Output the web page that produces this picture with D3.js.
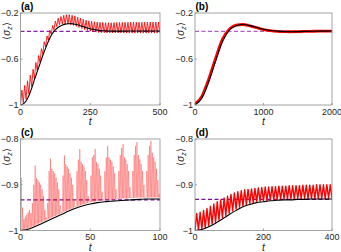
<!DOCTYPE html>
<html><head><meta charset="utf-8">
<script src="https://cdn.jsdelivr.net/npm/d3@7"></script>
<style>body{margin:0;background:#fff}svg{display:block}text{font-family:"Liberation Sans",Arial,sans-serif}</style>
</head><body><svg id="c" width="341" height="252"></svg>
<script>
// ---------- DATA ----------
// Panel (a): t in [0,500]
const aBlackStep = 10;
const aBlack = [-1,-0.99,-0.965,-0.92,-0.855,-0.78,-0.71,-0.64,-0.57,-0.505,-0.445,-0.395,-0.36,-0.335,-0.318,-0.305,-0.297,-0.293,-0.292,-0.295,-0.3,-0.307,-0.315,-0.323,-0.33,-0.337,-0.342,-0.347,-0.35,-0.353,-0.355,-0.356,-0.357,-0.358,-0.358,-0.358,-0.358,-0.358,-0.357,-0.357,-0.357,-0.357,-0.357,-0.357,-0.357,-0.357,-0.357,-0.357,-0.357,-0.357,-0.357];
const aRedPeriod = 10;
const aRedPeak = [-0.87,-0.83,-0.79,-0.74,-0.69,-0.63,-0.57,-0.51,-0.45,-0.4,-0.35,-0.31,-0.27,-0.245,-0.23,-0.22,-0.215,-0.215,-0.22,-0.225,-0.235,-0.245,-0.255,-0.262,-0.268,-0.272,-0.276,-0.279,-0.281,-0.283,-0.284,-0.285,-0.285,-0.284,-0.283,-0.282,-0.282,-0.281,-0.281,-0.281,-0.28,-0.28,-0.28,-0.281,-0.28,-0.28,-0.279,-0.28,-0.279,-0.279];
const aRedTrough = [-1,-0.98,-0.95,-0.905,-0.84,-0.77,-0.7,-0.63,-0.56,-0.495,-0.435,-0.385,-0.345,-0.318,-0.302,-0.296,-0.296,-0.297,-0.302,-0.308,-0.316,-0.325,-0.335,-0.345,-0.352,-0.358,-0.362,-0.366,-0.369,-0.371,-0.372,-0.373,-0.373,-0.374,-0.374,-0.374,-0.374,-0.375,-0.375,-0.375,-0.375,-0.375,-0.375,-0.375,-0.375,-0.375,-0.375,-0.375,-0.375,-0.375,-0.375];
const aSteady = -0.36;

// Panel (b): t in [0,2000]
const bStep = 100;
const bBlack = [-1,-0.94,-0.8,-0.62,-0.45,-0.35,-0.31,-0.3,-0.31,-0.325,-0.342,-0.352,-0.358,-0.362,-0.363,-0.362,-0.36,-0.359,-0.358,-0.358,-0.357];
const bRed = [-0.99,-0.925,-0.775,-0.595,-0.43,-0.34,-0.305,-0.3,-0.312,-0.328,-0.344,-0.353,-0.359,-0.362,-0.363,-0.362,-0.36,-0.359,-0.358,-0.358,-0.357];
const bSteady = -0.36;

// Panel (c): t in [0,100]
const cBlackStep = 5;
const cBlack = [-1,-0.998,-0.992,-0.985,-0.978,-0.971,-0.964,-0.957,-0.951,-0.946,-0.942,-0.939,-0.937,-0.936,-0.935,-0.934,-0.933,-0.932,-0.931,-0.931,-0.931];
const cRedPeriod = 1;
const cRedPeak = [-0.885,-0.95,-0.975,-0.97,-0.965,-0.96,-0.955,-0.962,-0.94,-0.9,
 -0.858,-0.885,-0.89,-0.895,-0.9,-0.91,-0.925,-0.955,-0.972,-0.94,
 -0.87,-0.843,-0.865,-0.87,-0.875,-0.885,-0.895,-0.91,-0.945,-0.96,
 -0.88,-0.836,-0.855,-0.86,-0.865,-0.875,-0.885,-0.9,-0.935,-0.948,
 -0.87,-0.845,-0.822,-0.85,-0.855,-0.86,-0.87,-0.89,-0.925,-0.937,
 -0.88,-0.84,-0.835,-0.822,-0.85,-0.855,-0.865,-0.88,-0.915,-0.933,
 -0.87,-0.84,-0.815,-0.84,-0.845,-0.85,-0.86,-0.875,-0.91,-0.93,
 -0.87,-0.835,-0.82,-0.811,-0.84,-0.845,-0.855,-0.87,-0.905,-0.928,
 -0.87,-0.835,-0.815,-0.807,-0.835,-0.845,-0.855,-0.87,-0.9,-0.927,
 -0.87,-0.835,-0.815,-0.804,-0.83,-0.84,-0.85,-0.865,-0.89,-0.92];
const cRedTrough = [-1,-0.999,-0.999,-0.998,-0.997,-0.996,-0.995,-0.994,-0.992,-0.991,
 -0.99,-0.988,-0.987,-0.985,-0.984,-0.982,-0.981,-0.979,-0.978,-0.976,
 -0.975,-0.974,-0.972,-0.971,-0.969,-0.968,-0.967,-0.965,-0.964,-0.962,
 -0.961,-0.96,-0.958,-0.957,-0.955,-0.954,-0.953,-0.952,-0.95,-0.949,
 -0.948,-0.947,-0.946,-0.945,-0.944,-0.943,-0.942,-0.941,-0.94,-0.939,
 -0.939,-0.938,-0.937,-0.937,-0.936,-0.936,-0.935,-0.935,-0.934,-0.934,
 -0.934,-0.933,-0.933,-0.933,-0.933,-0.932,-0.932,-0.932,-0.932,-0.932,
 -0.931,-0.931,-0.931,-0.93,-0.93,-0.93,-0.93,-0.93,-0.929,-0.929,
 -0.929,-0.929,-0.929,-0.928,-0.928,-0.928,-0.928,-0.928,-0.928,-0.928,
 -0.928,-0.928,-0.928,-0.928,-0.928,-0.928,-0.928,-0.928,-0.928,-0.928,-0.928];
const cSteady = -0.933;

// Panel (d): t in [0,400]
const dBlackStep = 20;
const dBlack = [-1,-0.998,-0.992,-0.984,-0.975,-0.965,-0.956,-0.948,-0.943,-0.939,-0.937,-0.935,-0.934,-0.933,-0.933,-0.932,-0.932,-0.931,-0.931,-0.931,-0.931];
const dRedPeriod = 10;
const dRedPeak = [-0.963,-0.96,-0.956,-0.952,-0.947,-0.942,-0.937,-0.933,-0.929,-0.925,-0.921,-0.918,-0.915,-0.913,-0.911,-0.91,-0.909,-0.908,-0.907,-0.906,-0.905,-0.905,-0.904,-0.904,-0.903,-0.903,-0.903,-0.902,-0.902,-0.902,-0.902,-0.901,-0.901,-0.901,-0.901,-0.9,-0.9,-0.9,-0.9,-0.9];
const dRedTrough = [-1,-0.999,-0.997,-0.994,-0.99,-0.986,-0.982,-0.977,-0.972,-0.967,-0.962,-0.957,-0.953,-0.949,-0.946,-0.943,-0.941,-0.939,-0.937,-0.936,-0.935,-0.934,-0.933,-0.933,-0.932,-0.932,-0.931,-0.931,-0.931,-0.931,-0.93,-0.93,-0.93,-0.93,-0.93,-0.93,-0.93,-0.93,-0.93,-0.93,-0.93];
const dSteady = -0.932;

const panelLabels = ["(a)","(b)","(c)","(d)"];
const xTicksA = [0,250,500], xTicksB = [0,1000,2000], xTicksC = [0,50,100], xTicksD = [0,200,400];
const yTicksTop = [-1,-0.6,-0.2], yTicksBot = [-1,-0.9,-0.8];

// ---------- DRAWING ----------
const svg = d3.select("#c");
const fmt = d3.format("");

function sampled(vals, step){ return vals.map((v,i)=>[i*step, v]); }
function spiky(peaks, troughs, period){
  const pts = [];
  troughs.forEach((v,i)=>{
    pts.push([i*period, v]);
    if(i < peaks.length) pts.push([(i+0.5)*period, peaks[i]]);
  });
  return pts;
}

const panels = [
  {lab:panelLabels[0], box:[20.5,160,13,105], xd:[0,500], yd:[-1,-0.2], xt:xTicksA, yt:yTicksTop, steady:aSteady,
   red:{pts:spiky(aRedPeak,aRedTrough,aRedPeriod), w:1, op:0.85, curve:d3.curveLinear},
   black:sampled(aBlack,aBlackStep), dashColor:"#8b1fa6"},
  {lab:panelLabels[1], box:[195,332,13,105], xd:[0,2000], yd:[-1,-0.2], xt:xTicksB, yt:yTicksTop, steady:bSteady,
   red:{pts:sampled(bRed,bStep), w:2.8, op:1, curve:d3.curveMonotoneX},
   black:sampled(bBlack,bStep), dashColor:"#b45cc8"},
  {lab:panelLabels[2], box:[20.5,160,139,230.5], xd:[0,100], yd:[-1,-0.8], xt:xTicksC, yt:yTicksBot, steady:cSteady,
   red:{pts:spiky(cRedPeak,cRedTrough,cRedPeriod), w:0.6, op:0.5, curve:d3.curveLinear},
   black:sampled(cBlack,cBlackStep), dashColor:"#7a0f9a"},
  {lab:panelLabels[3], box:[195,332,139,230.5], xd:[0,400], yd:[-1,-0.8], xt:xTicksD, yt:yTicksBot, steady:dSteady,
   red:{pts:spiky(dRedPeak,dRedTrough,dRedPeriod), w:1.4, op:1, curve:d3.curveLinear},
   black:sampled(dBlack,dBlackStep), dashColor:"#7a0f9a"}
];

panels.forEach((p,pi)=>{
  const [x0,x1,y0,y1] = p.box;
  const x = d3.scaleLinear().domain(p.xd).range([x0,x1]);
  const y = d3.scaleLinear().domain(p.yd).range([y1,y0]);
  const g = svg.append("g");
  const cid = "clip"+pi;
  g.append("clipPath").attr("id",cid).append("rect").attr("x",x0).attr("y",y0).attr("width",x1-x0).attr("height",y1-y0);
  const plot = g.append("g").attr("clip-path",`url(#${cid})`);

  // dashed steady state
  plot.append("line").attr("x1",x0).attr("x2",x1).attr("y1",y(p.steady)).attr("y2",y(p.steady))
    .attr("stroke",p.dashColor).attr("stroke-width",1.1).attr("stroke-dasharray","4,2.5");

  const line = d3.line().x(d=>x(d[0])).y(d=>y(d[1]));
  plot.append("path").datum(p.red.pts).attr("d",line.curve(p.red.curve))
    .attr("fill","none").attr("stroke","#ff0000").attr("stroke-width",p.red.w).attr("stroke-opacity",p.red.op)
    .attr("stroke-linejoin","round");
  plot.append("path").datum(p.black).attr("d",d3.line().x(d=>x(d[0])).y(d=>y(d[1])).curve(d3.curveMonotoneX))
    .attr("fill","none").attr("stroke","#000").attr("stroke-width",1.1);

  // box
  g.append("rect").attr("x",x0).attr("y",y0).attr("width",x1-x0).attr("height",y1-y0)
    .attr("fill","none").attr("stroke","#8c8c8c").attr("stroke-width",0.8);

  // ticks
  p.xt.forEach(t=>{
    g.append("line").attr("x1",x(t)).attr("x2",x(t)).attr("y1",y1).attr("y2",y1-2).attr("stroke","#8c8c8c").attr("stroke-width",0.8);
    g.append("text").attr("x",x(t)).attr("y",y1+9.5).attr("text-anchor","middle").attr("font-size",9).attr("fill","#262626").text(fmt(t));
  });
  p.yt.forEach(t=>{
    g.append("line").attr("x1",x0).attr("x2",x0+2).attr("y1",y(t)).attr("y2",y(t)).attr("stroke","#8c8c8c").attr("stroke-width",0.8);
    g.append("text").attr("x",x0-2).attr("y",y(t)+3.2).attr("text-anchor","end").attr("font-size",9).attr("fill","#262626").text(fmt(t));
  });

  // panel label
  g.append("text").attr("x",x0+0.5).attr("y",y0-3.5).attr("font-size",10).attr("font-weight","bold").attr("fill","#000").text(p.lab);

  // x label
  g.append("text").attr("x",(x0+x1)/2).attr("y",y1+20).attr("text-anchor","middle").attr("font-size",10.5)
    .attr("font-style","italic").attr("fill","#262626").text("t");

  // y label
  const yl = g.append("text").attr("transform",`translate(${x0-11},${y0+18}) rotate(-90)`)
    .attr("text-anchor","middle").attr("font-size",10).attr("fill","#262626");
  yl.append("tspan").text("⟨");
  yl.append("tspan").attr("font-style","italic").text("σ");
  yl.append("tspan").attr("font-size",7).attr("dy",2).attr("font-style","italic").text("z");
  yl.append("tspan").attr("dy",-2).text("⟩");
});
</script>
</body></html>
